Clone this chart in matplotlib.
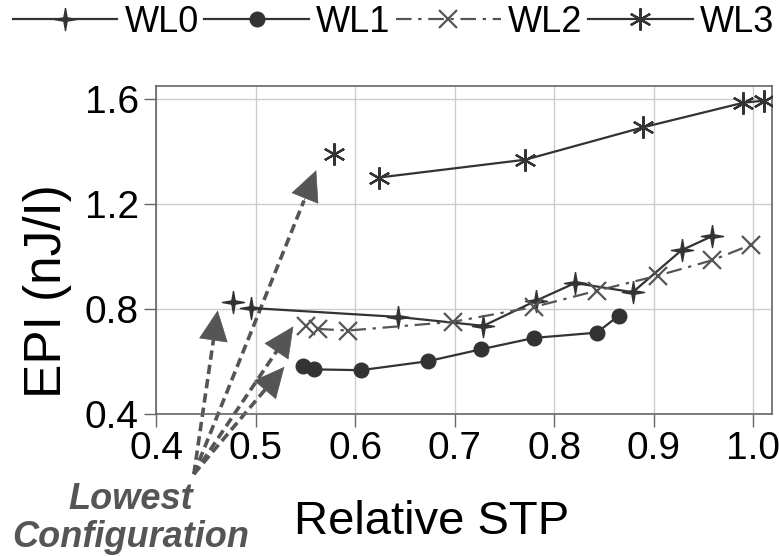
import matplotlib.pyplot as plt
from matplotlib.path import Path

plt.rcParams['font.family'] = ['Liberation Sans', 'DejaVu Sans']

# lowest configuration of each workload (drawn as lone markers)
low_stp = [0.477, 0.548, 0.551, 0.579]
low_epi = [0.825, 0.583, 0.734, 1.390]

wl0_stp = [0.495, 0.643, 0.729, 0.782, 0.821, 0.879, 0.928, 0.959]
wl0_epi = [0.804, 0.770, 0.736, 0.832, 0.899, 0.864, 1.024, 1.078]

wl1_stp = [0.559, 0.606, 0.673, 0.727, 0.780, 0.843, 0.865]
wl1_epi = [0.570, 0.567, 0.601, 0.647, 0.690, 0.710, 0.775]

wl2_stp = [0.563, 0.593, 0.698, 0.780, 0.843, 0.904, 0.959, 0.998]
wl2_epi = [0.724, 0.718, 0.751, 0.808, 0.870, 0.927, 0.986, 1.045]

wl3_stp = [0.624, 0.771, 0.889, 0.990, 1.011]
wl3_epi = [1.301, 1.369, 1.492, 1.586, 1.594]

# arrow tips pointing at the lowest configurations
tip_stp = [0.462, 0.529, 0.538, 0.561]
tip_epi = [0.795, 0.580, 0.734, 1.329]
arrow_from = (0.438, 0.171)

# four pointed star marker
star4 = Path([(0, 1), (0.15, 0.15), (1, 0), (0.15, -0.15), (0, -1),
              (-0.15, -0.15), (-1, 0), (-0.15, 0.15), (0, 1)])

dark = '#333333'
mid = '#555555'

fig = plt.figure(figsize=(7.79, 5.56), dpi=100)
ax = fig.add_axes([0.2003, 0.2554, 0.7908, 0.590])

styles = [
    dict(color=dark, marker=star4, ms=16, ls='-'),
    dict(color=dark, marker='o', ms=10.5, ls='-'),
    dict(color=mid, marker='x', ms=13, mew=1.6, ls=(0, (7, 3, 1.5, 3))),
    dict(color=dark, marker=(6, 2, 0), ms=16, mew=1.6, ls='-'),
]
series = [(wl0_stp, wl0_epi), (wl1_stp, wl1_epi), (wl2_stp, wl2_epi), (wl3_stp, wl3_epi)]
names = ['WL0', 'WL1', 'WL2', 'WL3']

for i, (xs, ys) in enumerate(series):
    ax.plot(xs, ys, lw=1.6, label=names[i], zorder=3, **styles[i])
    st = dict(styles[i])
    st['ls'] = 'none'
    ax.plot([low_stp[i]], [low_epi[i]], zorder=3, **st)

# dashed shafts, then solid heads on the last bit of each shaft
for tx, ty in zip(tip_stp, tip_epi):
    x0, y0 = arrow_from
    bx = x0 + (tx - x0) * 0.9
    by = y0 + (ty - y0) * 0.9
    ax.plot([x0, bx], [y0, by], color=mid, lw=2.6, ls=(0, (2.6, 1.4)),
            clip_on=False, zorder=2, solid_capstyle='butt', dash_capstyle='butt')
    ax.annotate('', xy=(tx, ty), xytext=(bx, by), annotation_clip=False,
                arrowprops=dict(arrowstyle='-|>,head_length=1.05,head_width=0.5',
                                color=mid, lw=0.5, shrinkA=0, shrinkB=0,
                                mutation_scale=20))

fig.text(0.168, 0.068, 'Lowest\nConfiguration', ha='center', va='center',
         fontsize=26, fontweight='bold', fontstyle='italic', color=mid,
         linespacing=1.1)

ax.set_xlim(0.4, 1.019)
ax.set_ylim(0.4, 1.65)
ax.set_xticks([0.4, 0.5, 0.6, 0.7, 0.8, 0.9, 1.0])
ax.set_xticklabels(['0.4', '0.5', '0.6', '0.7', '0.8', '0.9', '1.0'])
ax.set_yticks([0.4, 0.8, 1.2, 1.6])
ax.set_yticklabels(['0.4', '0.8', '1.2', '1.6'])
ax.grid(True, color='#cccccc', lw=1)
ax.set_axisbelow(True)
ax.tick_params(labelsize=28, color='#666666', length=9, width=1)
for s in ax.spines.values():
    s.set_color('#666666')
    s.set_linewidth(1.2)

ax.set_xlabel('Relative STP', fontsize=34)
ax.xaxis.set_label_coords(0.448, -0.262)
ax.set_ylabel('EPI (nJ/I)', fontsize=37)
ax.yaxis.set_label_coords(-0.136, 0.375)

fig.legend(loc='center', bbox_to_anchor=(0.505, 1 - 22 / 556), ncol=4, frameon=False,
           fontsize=26, handlelength=2.9, handletextpad=0.2, columnspacing=0.15,
           borderaxespad=0)

plt.savefig('out.png', dpi=100)
